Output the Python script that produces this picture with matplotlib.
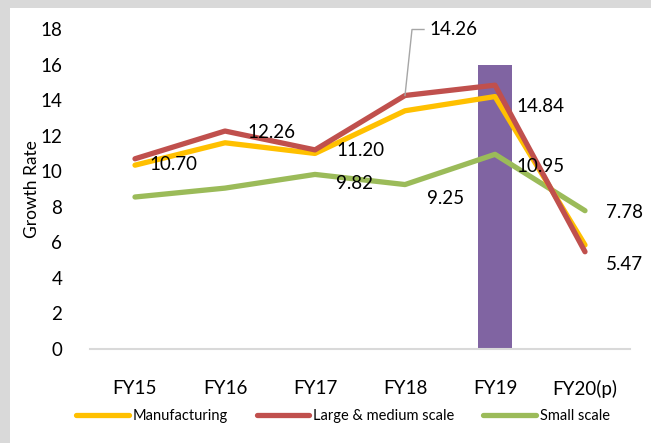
import matplotlib.pyplot as plt
from matplotlib.patches import Rectangle
from matplotlib.lines import Line2D

plt.rcParams['font.family'] = ['Lato', 'DejaVu Sans']

years = ['FY15', 'FY16', 'FY17', 'FY18', 'FY19', 'FY20(p)']
manufacturing = [10.34, 11.6, 11.0, 13.4, 14.2, 5.85]
large_medium = [10.70, 12.26, 11.20, 14.26, 14.84, 5.47]
small_scale = [8.55, 9.05, 9.82, 9.25, 10.95, 7.78]
highlight_year = 4
highlight_height = 16

c_man = '#ffc000'
c_lm = '#c0504d'
c_small = '#9bbb59'
c_bar = '#8064a2'

fig = plt.figure(figsize=(6.51, 4.43), dpi=100, facecolor='#d9d9d9')
fig.patches.append(Rectangle((10 / 651, 0), 1, 1 - 8 / 443, transform=fig.transFigure,
                             facecolor='white', edgecolor='none', zorder=-5))
ax = fig.add_axes([90 / 651, 94 / 443, 540 / 651, 320 / 443])
ax.set_facecolor('none')

x = list(range(len(years)))
ax.bar(highlight_year, highlight_height, width=0.37, color=c_bar, zorder=1)
ax.plot(x, manufacturing, color=c_man, lw=3.8, solid_capstyle='round', zorder=3)
ax.plot(x, large_medium, color=c_lm, lw=3.8, solid_capstyle='round', zorder=4)
ax.plot(x, small_scale, color=c_small, lw=3.8, solid_capstyle='round', zorder=2)

# value labels, offsets in pixels from the point
lm_offsets = [(14, -6), (22, -1), (21, -1), None, (21, -21), (21, -13)]
small_offsets = [None, None, (21, -9), (22, -14), (21, -12), (21, -2)]
for vals, offs in ((large_medium, lm_offsets), (small_scale, small_offsets)):
    for i, v in enumerate(vals):
        if offs[i] is None:
            continue
        ax.annotate('%.2f' % v, (i, v), xytext=offs[i], textcoords='offset pixels',
                    ha='left', va='center', fontsize=13.5, color='black', zorder=6)

# callout with leader line for FY18
px = 17.78
ax.plot([3, 3 + 7 / 90, 3 + 19 / 90],
        [large_medium[3], large_medium[3] + 66 / px, large_medium[3] + 66 / px],
        color='#a6a6a6', lw=1, clip_on=False, zorder=5)
ax.annotate('%.2f' % large_medium[3], (3, large_medium[3]), xytext=(24, 66),
            textcoords='offset pixels', ha='left', va='center', fontsize=13.5,
            annotation_clip=False, zorder=6)

ax.set_xlim(-0.5, 5.5)
ax.set_ylim(0, 18)
ax.set_yticks(range(0, 19, 2))
ax.set_xticks(x)
ax.set_xticklabels(years)
ax.tick_params(axis='both', length=0, labelsize=13.5)
ax.tick_params(axis='x', pad=22)
ax.tick_params(axis='y', pad=20)
for s in ['top', 'right', 'left']:
    ax.spines[s].set_visible(False)
ax.spines['bottom'].set_color('#d9d9d9')
ax.spines['bottom'].set_linewidth(1.5)
ax.set_ylabel('Growth Rate', fontsize=12.5)
ax.yaxis.set_label_coords(-50 / 540, 0.5)

handles = [Line2D([], [], color=c, lw=3.8, solid_capstyle='round') for c in (c_man, c_lm, c_small)]
fig.legend(handles, ['Manufacturing', 'Large & medium scale', 'Small scale'],
           loc='center', bbox_to_anchor=(343 / 651, 27 / 443), ncol=3, frameon=False,
           fontsize=10.5, handlelength=3.6, handletextpad=0.25, columnspacing=2.0)

fig.savefig('out.png', dpi=100, facecolor=fig.get_facecolor())
